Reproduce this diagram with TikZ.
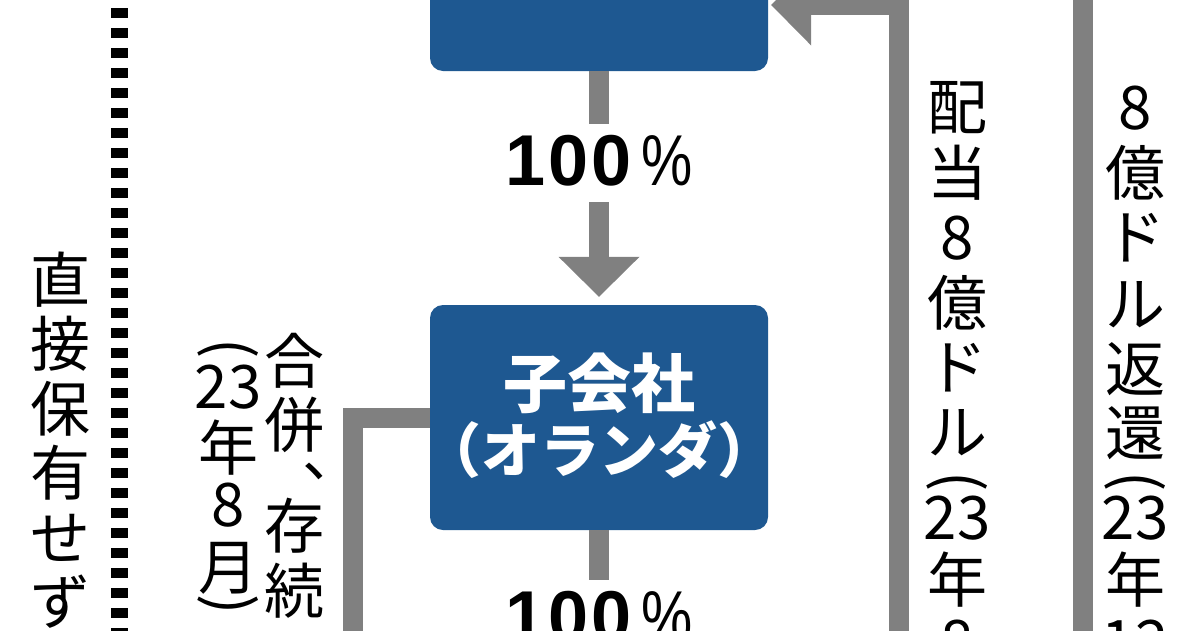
\documentclass[tikz,border=0pt]{standalone}
\usepackage{fontspec}
\usetikzlibrary{arrows.meta}
\newfontfamily\jp{Noto Sans CJK JP}
\newfontfamily\numfont{Liberation Sans}
\definecolor{boxblue}{RGB}{30,88,145}
\definecolor{conngray}{RGB}{128,128,128}
\newcommand{\pcttext}{{\numfont\bfseries\fontsize{72}{72}\selectfont 1\kern3pt0\kern3pt0}\kern10pt{\numfont\fontsize{72}{72}\selectfont\scalebox{0.8}[1]{\%}}}
\newcommand{\vlp}{\rotatebox{-90}{(}}
\newcommand{\vrp}{\rotatebox{-90}{)}}
\tikzset{
 box/.style={fill=boxblue, rounded corners=13pt, minimum width=338pt, inner sep=0pt},
 conn/.style={draw=conngray, line width=20pt, line join=miter},
 bigarrow/.style={-{Triangle[length=40pt,width=81pt,line width=0pt]}},
 dotline/.style={draw=black, line width=17pt, dash pattern=on 10pt off 10pt},
 vch/.style={font=\jp\fontsize{60}{60}\selectfont, inner sep=0pt, anchor=center},
 pct/.style={fill=white, inner sep=0pt, minimum height=78pt, minimum width=190pt, text height=60pt, text depth=16pt},
 boxtext/.style={text=white, inner sep=0pt}
}
\begin{document}
\begin{tikzpicture}[x=1pt,y=-1pt]
\useasboundingbox (0,0) rectangle (1200,630);
\clip (0,0) rectangle (1200,630);
\fill[white] (0,0) rectangle (1200,630);

% boxes
\node[box, minimum height=132pt] (top) at (599,5) {};
\node[box, minimum height=225pt] (sub) at (599,417.5) {};
\node[boxtext, font=\jp\bfseries\fontsize{64}{64}\selectfont] (subname) at (599,383) {子会社};
\node[boxtext, font=\jp\bfseries\fontsize{59}{59}\selectfont] (subcountry) at (599,450) {\makebox[0.42em][r]{（}オランダ\makebox[0.42em][l]{）}};

% percentage labels
\node[pct] (p1) at (599,163) {\pcttext};
\node[pct] (p2) at (599,619) {\pcttext};

% coordinates for free ends
\coordinate (b1) at (599,660);
\coordinate (l1) at (353,660);
\coordinate (r1) at (899,660);
\coordinate (r2a) at (1083,-20);
\coordinate (r2b) at (1083,660);
\coordinate (d1) at (119,-12);
\coordinate (d2) at (119,660);

% connectors
\draw[conn] (top.south) -- (p1.north);
\draw[conn, bigarrow, shorten >=8pt] (p1.south) -- (sub.north);
\draw[conn] (sub.south) -- (p2.north);
\draw[conn] (p2.south) -- (b1);
\draw[conn] (sub.west) -| (l1);
\draw[conn, bigarrow, shorten >=3pt] (r1) |- (top.east);
\draw[conn] (r2a) -- (r2b);
\draw[dotline] (d1) -- (d2);

% vertical texts
\foreach \c/\y [count=\i] in {直/280,接/344,保/409,有/473,せ/538,ず/602}
  \node[vch] (ta\i) at (60,\y) {\c};
\foreach \c/\y [count=\i] in {合/361,併/425,存/526,続/591}
  \node[vch] (tb\i) at (294,\y) {\c};
\node[vch] (tbc) at (332,471) {、};
\foreach \c/\y [count=\i] in {\vlp/349,23/387,年/448,8/505,月/568,\vrp/605}
  \node[vch] (tc\i) at (228,\y) {\c};
\foreach \c/\y [count=\i] in {配/108,当/173,8/238,億/303,ド/368,ル/433,\vlp/482,23/518,年/580,8/642}
  \node[vch] (td\i) at (957,\y) {\c};
\foreach \c/\y [count=\i] in {8/108,億/173,ド/238,ル/305,返/369,還/433,\vlp/482,23/518,年/580,12/642}
  \node[vch] (te\i) at (1135,\y) {\c};
\end{tikzpicture}
\end{document}
